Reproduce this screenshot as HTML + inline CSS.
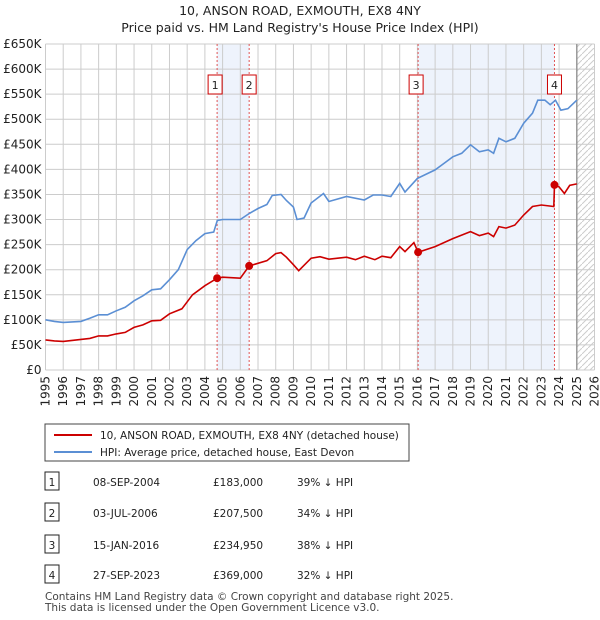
<!DOCTYPE html>
<html><head><meta charset="utf-8"><style>
body{margin:0;background:#fff;font-family:"DejaVu Sans","Liberation Sans",sans-serif;}
svg{display:block}
</style></head><body>
<svg width="600" height="620" viewBox="0 0 600 620" id="c" font-family="DejaVu Sans, Liberation Sans, sans-serif">
<text x="300" y="15" text-anchor="middle" font-size="12.5" fill="#222">10, ANSON ROAD, EXMOUTH, EX8 4NY</text>
<text x="300" y="32" text-anchor="middle" font-size="12.5" fill="#222">Price paid vs. HM Land Registry's House Price Index (HPI)</text>
<g id="plot"></g>
<g>
<rect x="45" y="424" width="364" height="37" fill="#fff" stroke="#444"/>
<line x1="54" y1="435" x2="92" y2="435" stroke="#cc0000" stroke-width="2"/>
<text x="100" y="439" font-size="10.5" fill="#222">10, ANSON ROAD, EXMOUTH, EX8 4NY (detached house)</text>
<line x1="54" y1="452" x2="92" y2="452" stroke="#5b8fd4" stroke-width="2"/>
<text x="100" y="456" font-size="10.5" fill="#222">HPI: Average price, detached house, East Devon</text>
</g>
<g id="table" font-size="10.5" fill="#222"></g>
<text x="45" y="600" font-size="10.5" fill="#444">Contains HM Land Registry data © Crown copyright and database right 2025.</text>
<text x="45" y="611" font-size="10.5" fill="#444">This data is licensed under the Open Government Licence v3.0.</text>
</svg>
<script>
const hpiYears=[1995,1995.5,1996,1996.5,1997,1997.5,1998,1998.5,1999,1999.5,2000,2000.5,2001,2001.5,2002,2002.5,2003,2003.5,2004,2004.5,2004.7,2005,2006,2006.5,2007,2007.5,2007.8,2008.3,2008.6,2009,2009.2,2009.6,2010,2010.7,2011,2012,2013,2013.5,2014,2014.5,2015,2015.3,2016,2017,2017.5,2018,2018.5,2019,2019.5,2020,2020.3,2020.6,2021,2021.5,2022,2022.5,2022.8,2023.2,2023.5,2023.8,2024.1,2024.5,2025];
const hpiValues=[100,97,95,96,97,103,110,110,118,125,138,148,160,162,180,200,240,258,272,275,298,300,300,312,322,330,348,350,338,325,300,303,333,352,336,346,339,349,349,346,372,355,382,399,412,425,432,449,435,439,432,462,455,462,492,512,538,538,529,538,518,521,538];
const ppYears=[1995,1995.5,1996,1996.5,1997,1997.5,1998,1998.5,1999,1999.5,2000,2000.5,2001,2001.5,2002,2002.7,2003.3,2004,2004.69,2005,2006,2006.5,2007.5,2008,2008.3,2008.6,2009,2009.3,2010,2010.5,2011,2012,2012.5,2013,2013.6,2014,2014.5,2015,2015.3,2015.8,2016.04,2017,2018,2019,2019.5,2020,2020.3,2020.6,2021,2021.5,2022,2022.5,2023,2023.7,2023.74,2024,2024.3,2024.6,2025];
const ppValues=[60,58,57,59,61,63,68,68,72,75,85,90,98,99,112,122,150,168,183,185,183,207.5,218,232,234,225,210,198,223,226,221,225,220,227,220,227,224,246,236,254,234.95,246,262,276,268,273,266,286,283,289,309,326,329,326,369,365,352,368,371];
const saleYears=[2004.69,2006.5,2016.04,2023.74];
const saleValues=[183,207.5,234.95,369];
const saleLabels=["1","2","3","4"];
const saleDates=["08-SEP-2004","03-JUL-2006","15-JAN-2016","27-SEP-2023"];
const salePrices=["£183,000","£207,500","£234,950","£369,000"];
const saleHpi=["39% ↓ HPI","34% ↓ HPI","38% ↓ HPI","32% ↓ HPI"];
const yTicks=[0,50,100,150,200,250,300,350,400,450,500,550,600,650];
const xTicks=[1995,1996,1997,1998,1999,2000,2001,2002,2003,2004,2005,2006,2007,2008,2009,2010,2011,2012,2013,2014,2015,2016,2017,2018,2019,2020,2021,2022,2023,2024,2025,2026];

const NS="http://www.w3.org/2000/svg";
const X0=45.5,X1=594.5,Y0=370,Y1=44;
const xs=y=>X0+(y-1995)/(2026-1995)*(X1-X0);
const ys=v=>Y0-v/650*(Y0-Y1);
const plot=document.getElementById('plot');
function mk(t,a,p){const e=document.createElementNS(NS,t);for(const k in a)e.setAttribute(k,a[k]);(p||plot).appendChild(e);return e;}

let b=mk('rect',{x:xs(saleYears[0]),y:Y1,width:xs(saleYears[1])-xs(saleYears[0]),height:Y0-Y1,fill:'#eef3fc'});


b=mk('rect',{x:xs(saleYears[2]),y:Y1,width:xs(saleYears[3])-xs(saleYears[2]),height:Y0-Y1,fill:'#eef3fc'});


const defs=mk('defs',{});
const pat=mk('pattern',{id:'h',patternUnits:'userSpaceOnUse',width:6,height:6},defs);
mk('path',{d:'M0,6 L6,0',stroke:'#ccc','stroke-width':1},pat);
b=mk('rect',{x:xs(2025),y:Y1,width:X1-xs(2025),height:Y0-Y1,fill:'url(#h)'});



yTicks.forEach(v=>{
 const l=mk('line',{x1:X0,x2:X1,y1:ys(v),y2:ys(v),stroke:'#ccc','stroke-width':1});
 
 
 const t=mk('text',{x:X0-4,y:ys(v)+4,'text-anchor':'end','font-size':12,fill:'#222'});
 t.textContent=v===0?'£0':'£'+v+'K';
 
 
});
xTicks.forEach(y=>{
 const l=mk('line',{x1:xs(y),x2:xs(y),y1:Y1,y2:Y0,stroke:'#ccc','stroke-width':1});
 
 
 const t=mk('text',{transform:`translate(${xs(y)+4},${Y0+6}) rotate(-90)`,'text-anchor':'end','font-size':12,fill:'#222'});
 t.textContent=y;
 
 
});
let ln=mk('line',{x1:xs(2025),x2:xs(2025),y1:Y1,y2:Y0,stroke:'#999','stroke-width':1.5});



saleYears.forEach((y,i)=>{
 const l=mk('line',{x1:xs(y),x2:xs(y),y1:Y1,y2:Y0,stroke:'#e05555','stroke-width':1,'stroke-dasharray':'2,2'});
 
 
 const r=mk('rect',{x:xs(y)-7-(i%2?0:2),y:75,width:14,height:19,fill:'#fff',stroke:'#cc0000'});
 
 
 const t=mk('text',{x:xs(y)-(i%2?0:2),y:89,'text-anchor':'middle','font-size':11,fill:'#222'});
 t.textContent=saleLabels[i];
 
 
});
function path(xa,va){return xa.map((y,i)=>(i?'L':'M')+xs(y).toFixed(1)+','+ys(va[i]).toFixed(1)).join('');}
let p=mk('path',{d:path(hpiYears,hpiValues),fill:'none',stroke:'#5b8fd4','stroke-width':1.6});


p=mk('path',{d:path(ppYears,ppValues),fill:'none',stroke:'#cc0000','stroke-width':1.6});


saleYears.forEach((y,i)=>{
 const c=mk('circle',{cx:xs(y),cy:ys(saleValues[i]),r:4,fill:'#cc0000'});
 
 
});
const tb=document.getElementById('table');
const rowY=[482,513,545,575];
saleLabels.forEach((s,i)=>{
 const y=rowY[i];
 const r=mk('rect',{x:45,y:y-10,width:14,height:18,fill:'#fff',stroke:'#222'},tb);
 
 
 const cells=[[52,s,'middle'],[93,saleDates[i],'start'],[213,salePrices[i],'start'],[297,saleHpi[i],'start']];
 cells.forEach(c=>{
  const t=mk('text',{x:c[0],y:y+4,'text-anchor':c[2]},tb);
  t.textContent=c[1];
  
  
 });
});
</script>
</body></html>
